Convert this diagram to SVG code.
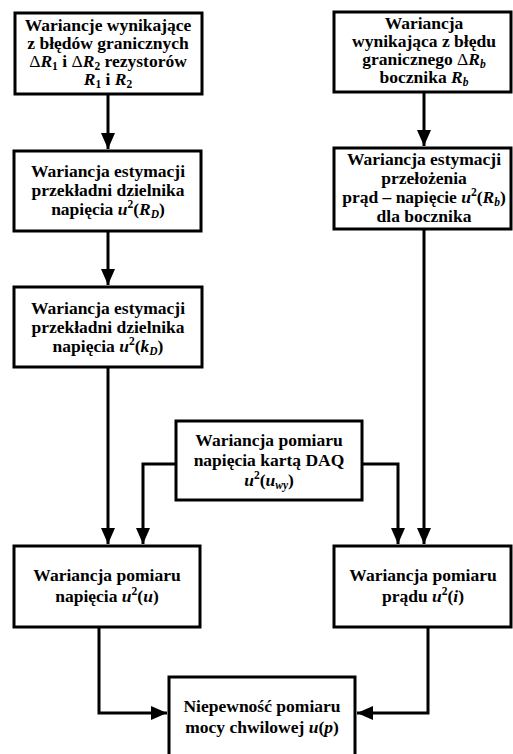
<svg xmlns="http://www.w3.org/2000/svg" width="513" height="754" viewBox="0 0 513 754">
<defs>
<style>
.box{fill:#fff;stroke:#000;stroke-width:3}
.t{font-family:"Liberation Serif","Times New Roman",serif;font-weight:bold;font-size:17.5px;fill:#000;text-anchor:middle}
.i{font-style:italic}
.s{font-size:11.5px}
.c{fill:none;stroke:#000;stroke-width:3}
</style>
<marker id="ah" markerWidth="16" markerHeight="14" refX="16" refY="7" orient="auto" markerUnits="userSpaceOnUse">
<path d="M0,0 L16,7 L0,14 Z" fill="#000"/>
</marker>
</defs>
<rect width="513" height="754" fill="#fff"/>
<g id="connectors">
<path class="c" d="M108,94 V149" marker-end="url(#ah)"/>
<path class="c" d="M108,231 V285" marker-end="url(#ah)"/>
<path class="c" d="M108,367 V544" marker-end="url(#ah)"/>
<path class="c" d="M424,92 V146" marker-end="url(#ah)"/>
<path class="c" d="M424,229 V544" marker-end="url(#ah)"/>
<path class="c" d="M176,464 H143 V544" marker-end="url(#ah)"/>
<path class="c" d="M362,464 H398 V544" marker-end="url(#ah)"/>
<path class="c" d="M99,627 V713 H167" marker-end="url(#ah)"/>
<path class="c" d="M428,627 V713 H357" marker-end="url(#ah)"/>
</g>
<g id="n1">
<rect class="box" x="15" y="13" width="187" height="81"/>
<text class="t" x="108" y="31">Wariancje wynikające</text>
<text class="t" x="108" y="49">z błędów granicznych</text>
<text class="t" x="108" y="67"><tspan font-weight="normal">Δ</tspan><tspan class="i">R</tspan><tspan class="s" dy="3">1</tspan><tspan dy="-3"> i </tspan><tspan font-weight="normal">Δ</tspan><tspan class="i">R</tspan><tspan class="s" dy="3">2</tspan><tspan dy="-3"> rezystorów</tspan></text>
<text class="t" x="108" y="85"><tspan class="i">R</tspan><tspan class="s" dy="3">1</tspan><tspan dy="-3"> i </tspan><tspan class="i">R</tspan><tspan class="s" dy="3">2</tspan></text>
</g>
<g id="n2">
<rect class="box" x="14" y="151" width="187" height="80"/>
<text class="t" x="108" y="177">Wariancja estymacji</text>
<text class="t" x="108" y="196">przekładni dzielnika</text>
<text class="t" x="108" y="215">napięcia <tspan class="i">u</tspan><tspan class="s" dy="-7">2</tspan><tspan dy="7">(</tspan><tspan class="i">R</tspan><tspan class="s i" dy="3">D</tspan><tspan dy="-3">)</tspan></text>
</g>
<g id="n3">
<rect class="box" x="14" y="287" width="188" height="80"/>
<text class="t" x="108" y="314">Wariancja estymacji</text>
<text class="t" x="108" y="333">przekładni dzielnika</text>
<text class="t" x="108" y="352">napięcia <tspan class="i">u</tspan><tspan class="s" dy="-7">2</tspan><tspan dy="7">(</tspan><tspan class="i">k</tspan><tspan class="s i" dy="3">D</tspan><tspan dy="-3">)</tspan></text>
</g>
<g id="r1">
<rect class="box" x="334" y="12" width="177" height="80"/>
<text class="t" x="424" y="29">Wariancja</text>
<text class="t" x="424" y="47">wynikająca z błędu</text>
<text class="t" x="424" y="65">granicznego <tspan font-weight="normal">Δ</tspan><tspan class="i">R</tspan><tspan class="s i" dy="3">b</tspan></text>
<text class="t" x="424" y="83">bocznika <tspan class="i">R</tspan><tspan class="s i" dy="3">b</tspan></text>
</g>
<g id="r2">
<rect class="box" x="334" y="148" width="177" height="81"/>
<text class="t" x="424" y="165">Wariancja estymacji</text>
<text class="t" x="424" y="184">przełożenia</text>
<text class="t" x="424" y="203">prąd – napięcie <tspan class="i">u</tspan><tspan class="s" dy="-7">2</tspan><tspan dy="7">(</tspan><tspan class="i">R</tspan><tspan class="s i" dy="3">b</tspan><tspan dy="-3">)</tspan></text>
<text class="t" x="424" y="222">dla bocznika</text>
</g>
<g id="daq">
<rect class="box" x="176" y="421" width="186" height="79"/>
<text class="t" x="269" y="446">Wariancja pomiaru</text>
<text class="t" x="269" y="466">napięcia kartą DAQ</text>
<text class="t" x="269" y="486"><tspan class="i">u</tspan><tspan class="s" dy="-7">2</tspan><tspan dy="7">(</tspan><tspan class="i">u</tspan><tspan class="s i" dy="3">wy</tspan><tspan dy="-3">)</tspan></text>
</g>
<g id="n4">
<rect class="box" x="14" y="546" width="186" height="81"/>
<text class="t" x="107" y="581">Wariancja pomiaru</text>
<text class="t" x="107" y="602">napięcia <tspan class="i">u</tspan><tspan class="s" dy="-7">2</tspan><tspan dy="7">(</tspan><tspan class="i">u</tspan>)</text>
</g>
<g id="r4">
<rect class="box" x="334" y="546" width="177" height="81"/>
<text class="t" x="423" y="581">Wariancja pomiaru</text>
<text class="t" x="423" y="602">prądu <tspan class="i">u</tspan><tspan class="s" dy="-7">2</tspan><tspan dy="7">(</tspan><tspan class="i">i</tspan>)</text>
</g>
<g id="out">
<rect class="box" x="169" y="677" width="186" height="90"/>
<text class="t" x="262" y="712">Niepewność pomiaru</text>
<text class="t" x="262" y="733">mocy chwilowej <tspan class="i">u</tspan>(<tspan class="i">p</tspan>)</text>
</g>
</svg>
